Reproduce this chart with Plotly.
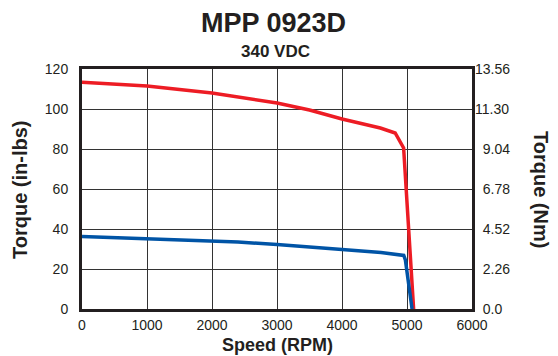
import plotly.graph_objects as go

# Data (speed in RPM, torque in in-lbs)
speed_red = [0, 700, 1000, 2000, 3000, 3500, 4000, 4590, 4818, 4948, 5102]
torque_red = [113.4, 112.3, 111.5, 108, 103, 99.5, 95, 90.5, 88, 80.5, 0]

speed_blue = [0, 1000, 2000, 2400, 3000, 4000, 4600, 4950, 4975, 5078]
torque_blue = [36.2, 35, 34, 33.5, 32.2, 29.9, 28.2, 26.8, 24.5, 0]

x_ticks = [0, 1000, 2000, 3000, 4000, 5000, 6000]
y_ticks = [0, 20, 40, 60, 80, 100, 120]
y2_ticks = [0, 2.26, 4.52, 6.78, 9.04, 11.30, 13.56]
y2_labels = ["\u00a0\u00a00.0", "\u00a0\u00a02.26", "\u00a0\u00a04.52", "\u00a0\u00a06.78",
             "\u00a0\u00a09.04", "11.30", "13.56"]

title = "MPP 0923D"
subtitle = "340 VDC"
x_title = "Speed (RPM)"
y_title = "Torque (in-lbs)"
y2_title = "Torque (Nm)"

FONT = "Liberation Sans, Arial, Helvetica, sans-serif"
TXT = "#231f20"
GRID = "#333333"

fig = go.Figure()
fig.add_trace(go.Scatter(x=speed_red, y=torque_red, mode="lines",
                         line=dict(color="#ed1c24", width=3.5), showlegend=False))
fig.add_trace(go.Scatter(x=speed_blue, y=torque_blue, mode="lines",
                         line=dict(color="#0054a6", width=3.5), showlegend=False))
# invisible trace to activate right axis
fig.add_trace(go.Scatter(x=[0], y=[0], yaxis="y2", mode="markers",
                         marker=dict(opacity=0), showlegend=False, hoverinfo="skip"))

fig.update_layout(
    width=558, height=356,
    margin=dict(l=82, r=86, t=69, b=47),
    paper_bgcolor="white", plot_bgcolor="white",
    font=dict(family=FONT, color=TXT),
    xaxis=dict(range=[0, 6000], tickvals=x_ticks, ticktext=[str(v) for v in x_ticks],
               showgrid=True, gridcolor=GRID, gridwidth=1,
               showline=True, linecolor="#231f20", linewidth=3, mirror=True,
               ticks="", tickfont=dict(size=14, family=FONT, color=TXT),
               ticklabelstandoff=1, zeroline=False),
    yaxis=dict(range=[0, 120], tickvals=y_ticks, ticktext=[str(v) for v in y_ticks],
               showgrid=True, gridcolor=GRID, gridwidth=1,
               showline=True, linecolor="#231f20", linewidth=3, mirror=True,
               ticks="", tickfont=dict(size=14, family=FONT, color=TXT),
               ticklabelstandoff=8, zeroline=False),
    yaxis2=dict(range=[0, 13.56], overlaying="y", side="right",
                tickvals=y2_ticks, ticktext=y2_labels,
                showgrid=False, showline=False, ticks="",
                tickfont=dict(size=14, family=FONT, color=TXT),
                ticklabelstandoff=2, zeroline=False),
)

anns = [
    dict(text=f"<b>{title}</b>", x=0.49, y=1.19, yanchor="middle", font=dict(size=27)),
    dict(text=f"<b>{subtitle}</b>", x=0.495, y=1.075, yanchor="middle", font=dict(size=17)),
    dict(text=f"<b>{x_title}</b>", x=0.5, y=-0.195, yanchor="bottom", font=dict(size=18)),
    dict(text=f"<b>{y_title}</b>", x=-0.159, y=0.5, yanchor="middle", textangle=-90, font=dict(size=20)),
    dict(text=f"<b>{y2_title}</b>", x=1.177, y=0.5, yanchor="middle", textangle=90, font=dict(size=20)),
]
for a in anns:
    fig.add_annotation(xref="paper", yref="paper", showarrow=False,
                       xanchor="center", yanchor=a["yanchor"], borderpad=0,
                       x=a["x"], y=a["y"], text=a["text"], textangle=a.get("textangle", 0),
                       font=dict(family=FONT, color=TXT, size=a["font"]["size"]))

fig.write_html("out.html")
